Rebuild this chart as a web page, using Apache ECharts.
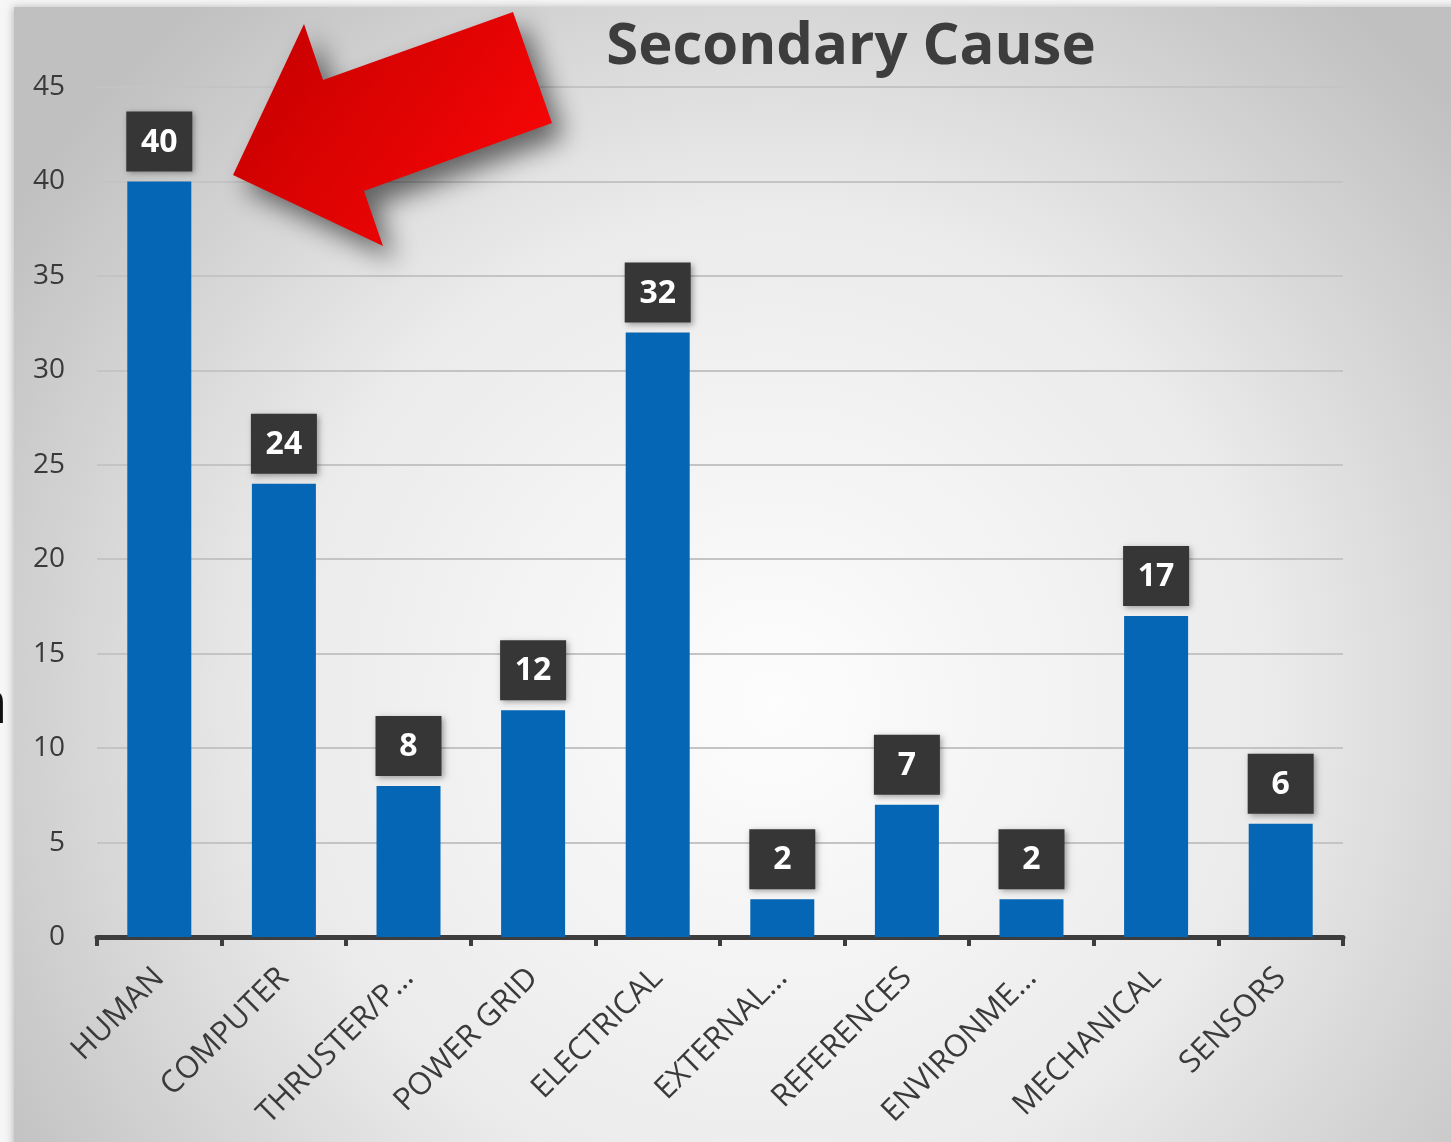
<!DOCTYPE html>
<html>
<head>
<meta charset="utf-8">
<script src="https://cdn.jsdelivr.net/npm/echarts@6/dist/echarts.min.js"></script>
<style>
  html, body { margin: 0; padding: 0; background: #f6f6f6; }
  #chart { width: 1451px; height: 1142px; }
</style>
</head>
<body>
<div id="chart"></div>
<script>
// Secondary cause counts
const categories = ['HUMAN', 'COMPUTER', 'THRUSTER/P…', 'POWER GRID', 'ELECTRICAL',
                    'EXTERNAL…', 'REFERENCES', 'ENVIRONME…', 'MECHANICAL', 'SENSORS'];
const counts = [40, 24, 8, 12, 32, 2, 7, 2, 17, 6];
const yTicks = [0, 5, 10, 15, 20, 25, 30, 35, 40, 45];

const FONT = "'Open Sans', 'Noto Sans', sans-serif";
const chart = echarts.init(document.getElementById('chart'));

chart.setOption({
  backgroundColor: '#f6f6f6',
  animation: false,
  graphic: [
    // slide panel with soft radial shading
    {
      type: 'rect', z: -10, silent: true,
      shape: { x: 14, y: 7, width: 1460, height: 1160 },
      style: {
        fill: {
          type: 'radial', x: 0.52, y: 0.6, r: 0.78,
          colorStops: [
            { offset: 0, color: '#fdfdfd' },
            { offset: 0.55, color: '#ebebeb' },
            { offset: 1, color: '#c0c0c0' }
          ]
        },
        shadowBlur: 8, shadowColor: 'rgba(0,0,0,0.25)', shadowOffsetX: -1
      }
    },
    // clipped glyph at the left edge
    {
      type: 'text', left: -29, top: 676, z: 5,
      style: { text: 'n', font: "60px " + FONT, fill: '#111' }
    },
    // red pointer arrow
    {
      type: 'polygon', z: 20, silent: true,
      shape: {
        points: [[233, 175], [304, 24], [323, 80], [513, 12],
                 [552, 123], [364, 191], [383, 246]]
      },
      style: {
        fill: {
          type: 'linear', x: 0, y: 0, x2: 1, y2: 1,
          colorStops: [
            { offset: 0, color: '#c20000' },
            { offset: 1, color: '#ff0606' }
          ]
        },
        shadowBlur: 26, shadowOffsetX: 12, shadowOffsetY: 14,
        shadowColor: 'rgba(0,0,0,0.55)'
      }
    }
  ],
  title: {
    text: 'Secondary Cause',
    left: 846, top: 13, textAlign: 'center',
    textStyle: { fontFamily: FONT, fontSize: 58, fontWeight: 'bold', color: '#3d3d3d' }
  },
  grid: { left: 97, right: 108, top: 87, bottom: 205, containLabel: false },
  xAxis: {
    type: 'category',
    data: categories,
    axisLine: { lineStyle: { color: '#3d3d3d', width: 5 } },
    axisTick: { show: true, length: 9, lineStyle: { color: '#3d3d3d', width: 4 } },
    axisLabel: {
      rotate: 45, interval: 0, margin: 36,
      fontFamily: FONT, fontSize: 31, color: '#3a3a3a'
    }
  },
  yAxis: {
    type: 'value',
    min: 0, max: 45, interval: 5,
    axisLine: { show: false },
    axisTick: { show: false },
    axisLabel: {
      margin: 32, fontFamily: FONT, fontSize: 28, color: '#3a3a3a',
      formatter: v => (yTicks.includes(v) ? String(v) : '')
    },
    splitLine: { lineStyle: { color: '#c4c4c4', width: 2 } }
  },
  series: [{
    type: 'bar',
    data: counts,
    barWidth: 64,
    itemStyle: { color: '#0466b4' },
    label: {
      show: true, position: 'top', distance: 10,
      fontFamily: FONT, fontSize: 32, fontWeight: 'bold', color: '#ffffff',
      backgroundColor: '#363636', width: 42, align: 'center',
      padding: [15, 12, 13, 12],
      shadowBlur: 6, shadowColor: 'rgba(0,0,0,0.35)', shadowOffsetX: 2, shadowOffsetY: 2
    }
  }]
});
</script>
</body>
</html>
